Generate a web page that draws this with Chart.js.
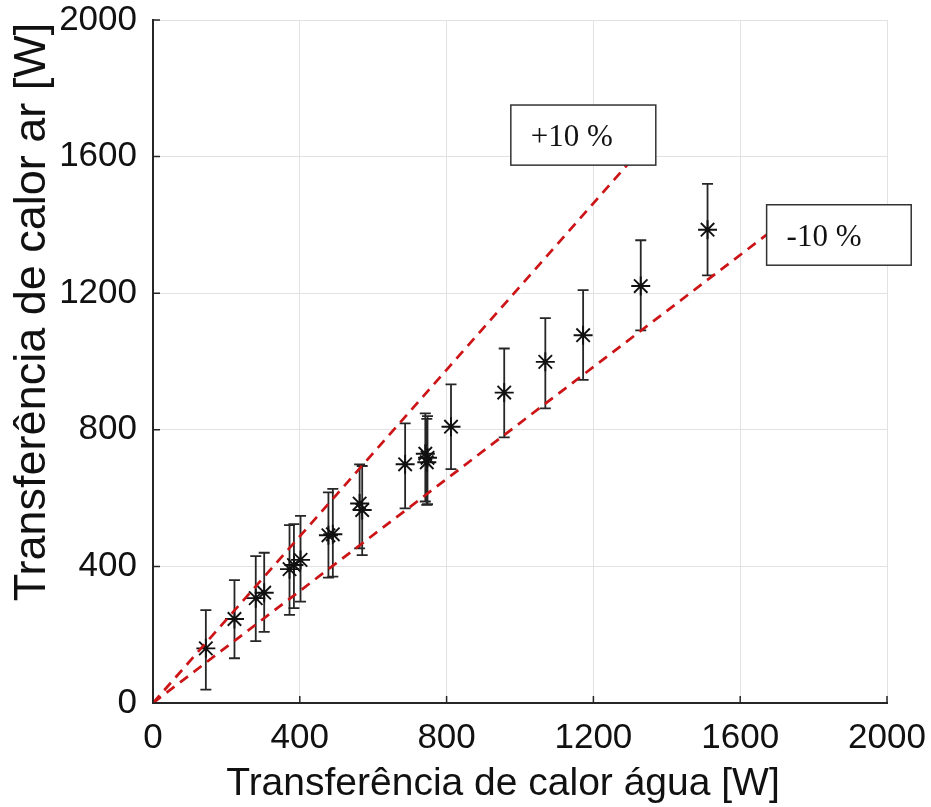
<!DOCTYPE html>
<html>
<head>
<meta charset="utf-8">
<script src="https://cdn.jsdelivr.net/npm/chart.js@4.4.1/dist/chart.umd.min.js"></script>
<style>
  html, body { margin: 0; padding: 0; background: #fff; }
  #wrap { width: 931px; height: 807px; }
</style>
</head>
<body>
<div id="wrap"><canvas id="chart" width="931" height="807"></canvas></div>
<script>
// heat transfer on the water side (x) vs air side (y), in W
const qWater   = [144, 222, 280, 303, 372, 384, 402, 478, 490, 563, 570, 687, 742, 748, 746, 812, 957, 1069, 1172, 1329, 1511];
const qAir     = [160, 246, 307, 323, 392, 404, 419, 491, 494, 584, 565, 699, 730, 718, 705, 809, 909, 999, 1077, 1221, 1386];
const qAirHigh = [272, 360, 430, 440, 521, 524, 548, 617, 627, 699, 694, 819, 848, 840, 832, 933, 1038, 1127, 1209, 1355, 1520];
const qAirLow  = [39, 131, 181, 208, 258, 278, 297, 367, 370, 453, 433, 570, 590, 582, 580, 685, 778, 863, 946, 1091, 1252];

// +10 % / -10 % reference lines
const plusLineX  = [0, 1320];
const plusLineY  = [0, 1610];
const minusLineX = [0, 1700];
const minusLineY = [0, 1394];

const axisTicks = [0, 400, 800, 1200, 1600, 2000];

const xTitle = "Transferência de calor água [W]";
const yTitle = "Transferência de calor ar [W]";

const AXIS_COLOR = "#262626";
const GRID_COLOR = "#e2e2e2";
const RED = "#cc1417";

// text boxes, placed in data units
const noteBoxes = [
    { text: "+10 %", x0: 975, x1: 1370, y0: 1751, y1: 1575 },
    { text: "-10 %", x0: 1672, x1: 2066, y0: 1459, y1: 1282 },
];

/* ===================== PLUGINS ===================== */

const errorBars = {
    id: "errorBars",
    beforeDatasetsDraw(chart) {
        const { ctx, scales: { x, y } } = chart;
        ctx.save();
        ctx.strokeStyle = AXIS_COLOR;
        ctx.lineWidth = 1.8;
        qWater.forEach((w, i) => {
            const px = x.getPixelForValue(w);
            const top = y.getPixelForValue(qAirHigh[i]);
            const bot = y.getPixelForValue(qAirLow[i]);
            ctx.beginPath();
            ctx.moveTo(px, top); ctx.lineTo(px, bot);
            ctx.moveTo(px - 5.5, top); ctx.lineTo(px + 5.5, top);
            ctx.moveTo(px - 5.5, bot); ctx.lineTo(px + 5.5, bot);
            ctx.stroke();
        });
        ctx.restore();
    },
};

const decorations = {
    id: "decorations",
    afterDatasetsDraw(chart) {
        const { ctx, chartArea: a, scales: { x, y } } = chart;
        ctx.save();

        // inward tick marks
        ctx.strokeStyle = AXIS_COLOR;
        ctx.lineWidth = 1.5;
        ctx.beginPath();
        axisTicks.forEach(t => {
            const px = x.getPixelForValue(t);
            ctx.moveTo(px, a.bottom); ctx.lineTo(px, a.bottom - 7);
            const py = y.getPixelForValue(t);
            ctx.moveTo(a.left, py); ctx.lineTo(a.left + 7, py);
        });
        ctx.stroke();

        // annotation boxes
        noteBoxes.forEach(b => {
            const l = x.getPixelForValue(b.x0), r = x.getPixelForValue(b.x1);
            const t = y.getPixelForValue(b.y0), btm = y.getPixelForValue(b.y1);
            ctx.fillStyle = "#fff";
            ctx.fillRect(l, t, r - l, btm - t);
            ctx.strokeStyle = "#333";
            ctx.lineWidth = 1.5;
            ctx.strokeRect(l, t, r - l, btm - t);
            ctx.fillStyle = "#111";
            ctx.font = "31px 'Liberation Serif', 'DejaVu Serif', serif";
            ctx.textAlign = "left";
            ctx.textBaseline = "alphabetic";
            ctx.fillText(b.text, l + 20, t + 41);
        });

        // axis titles
        ctx.fillStyle = "#111";
        ctx.font = "39px 'Liberation Sans', Arial, sans-serif";
        ctx.textAlign = "center";
        ctx.textBaseline = "alphabetic";
        ctx.fillText(xTitle, 503, 795);

        ctx.font = "45px 'Liberation Sans', Arial, sans-serif";
        ctx.translate(45, 312);
        ctx.rotate(-Math.PI / 2);
        ctx.fillText(yTitle, 0, 0);
        ctx.restore();
    },
};

/* ===================== CHART ===================== */

const tickFont = { family: "'Liberation Sans', Arial, sans-serif", size: 35, lineHeight: 1 };

new Chart(document.getElementById("chart"), {
    type: "scatter",
    data: {
        datasets: [
            {
                label: "+10 %",
                data: plusLineX.map((v, i) => ({ x: v, y: plusLineY[i] })),
                showLine: true,
                borderColor: RED,
                borderWidth: 2.7,
                borderDash: [10, 7],
                pointRadius: 0,
            },
            {
                label: "-10 %",
                data: minusLineX.map((v, i) => ({ x: v, y: minusLineY[i] })),
                showLine: true,
                borderColor: RED,
                borderWidth: 2.7,
                borderDash: [10, 7],
                pointRadius: 0,
            },
            {
                label: "Medições",
                data: qWater.map((v, i) => ({ x: v, y: qAir[i] })),
                pointStyle: "star",
                pointRadius: 9.5,
                borderColor: "#111",
                borderWidth: 1.9,
                backgroundColor: "#111",
            },
        ],
    },
    options: {
        responsive: false,
        animation: false,
        events: [],
        layout: { padding: { top: 20, right: 44, left: 0, bottom: 0 } },
        plugins: { legend: { display: false }, tooltip: { enabled: false } },
        scales: {
            x: {
                type: "linear",
                min: 0,
                max: 2000,
                afterBuildTicks: s => { s.ticks = axisTicks.map(v => ({ value: v })); },
                afterFit: s => { s.height = 104; s.paddingLeft = 0; s.paddingRight = 0; },
                ticks: { color: "#111", font: tickFont, padding: 18, maxRotation: 0, callback: v => String(v) },
                grid: { color: GRID_COLOR, lineWidth: 1, drawTicks: false },
                border: { display: true, color: AXIS_COLOR, width: 2 },
            },
            y: {
                type: "linear",
                min: 0,
                max: 2000,
                afterBuildTicks: s => { s.ticks = axisTicks.map(v => ({ value: v })); },
                afterFit: s => { s.width = 153; s.paddingTop = 0; s.paddingBottom = 0; },
                ticks: { color: "#111", font: tickFont, padding: 16, callback: v => String(v) },
                grid: { color: GRID_COLOR, lineWidth: 1, drawTicks: false },
                border: { display: true, color: AXIS_COLOR, width: 2 },
            },
        },
    },
    plugins: [errorBars, decorations],
});
</script>
</body>
</html>
